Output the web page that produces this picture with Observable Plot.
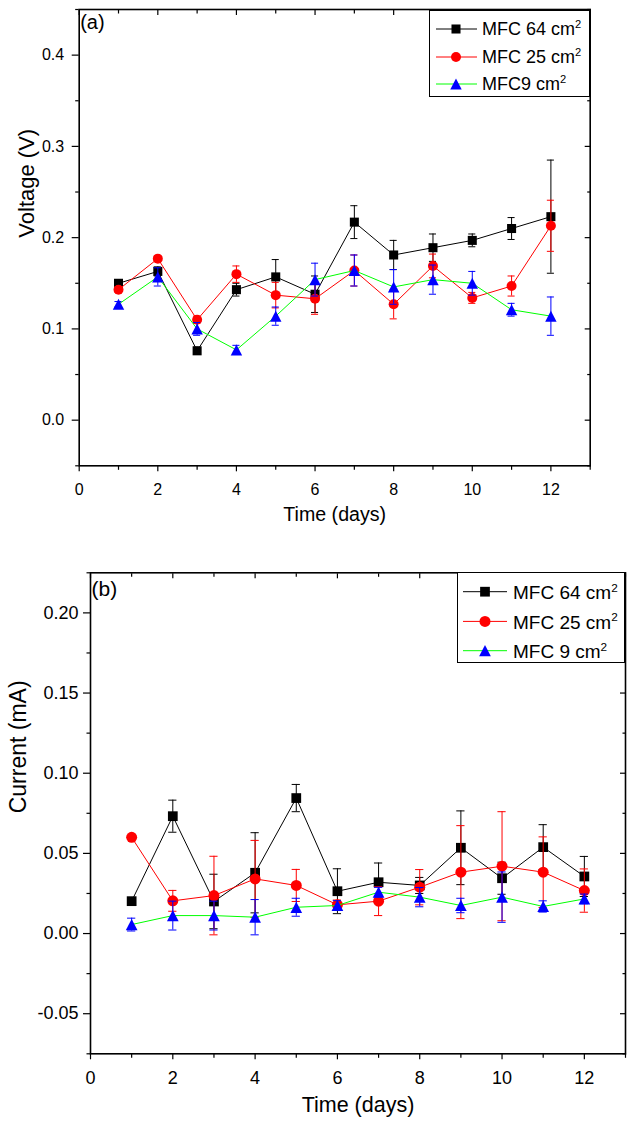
<!DOCTYPE html>
<html>
<head>
<meta charset="utf-8">
<script src="https://cdn.jsdelivr.net/npm/d3@7"></script>
<script src="https://cdn.jsdelivr.net/npm/@observablehq/plot@0.6"></script>
<style>
  body { margin: 0; background: #fff; font-family: "Liberation Sans", Arial, sans-serif; }
  #wrap { position: relative; width: 629px; height: 1127px; overflow: hidden; }
  .panel { position: relative; width: 629px; }
  .panel svg { display: block; }
  .legend { position: absolute; border: 1px solid #000; background: #fff; box-sizing: border-box; }
  .legend svg { position: absolute; left: 0; top: 0; overflow: visible; }
  .legend .lab { position: absolute; white-space: nowrap; line-height: 1; color: #000; transform: translateY(-50%); }
  .legend sup { font-size: 0.62em; vertical-align: baseline; position: relative; top: -0.62em; }
</style>
</head>
<body>
<div id="wrap"></div>
<script>
// ---------------- DATA ----------------
const days = [1, 2, 3, 4, 5, 6, 7, 8, 9, 10, 11, 12];
const seriesNamesA = ["MFC 64 cm", "MFC 25 cm", "MFC9 cm"];
const seriesNamesB = ["MFC 64 cm", "MFC 25 cm", "MFC 9 cm"];

// Panel (a): Voltage (V)
const volt64 = [0.150, 0.163, 0.076, 0.143, 0.157, 0.138, 0.217, 0.181, 0.189, 0.197, 0.210, 0.223];
const volt64Err = [0.003, 0.005, 0.004, 0.007, 0.019, 0.020, 0.018, 0.016, 0.015, 0.007, 0.012, 0.062];
const volt25 = [0.143, 0.177, 0.110, 0.160, 0.137, 0.133, 0.164, 0.127, 0.169, 0.134, 0.147, 0.213];
const volt25Err = [0.003, 0.003, 0.004, 0.009, 0.014, 0.017, 0.017, 0.016, 0.013, 0.006, 0.011, 0.028];
const volt9 = [0.127, 0.157, 0.100, 0.077, 0.114, 0.154, 0.164, 0.146, 0.154, 0.150, 0.121, 0.114];
const volt9Err = [0.003, 0.010, 0.007, 0.005, 0.010, 0.018, 0.017, 0.019, 0.016, 0.013, 0.007, 0.021];

// Panel (b): Current (mA)
const curr64 = [0.0202, 0.0732, 0.0200, 0.0379, 0.0845, 0.0264, 0.0320, 0.0300, 0.0535, 0.0345, 0.0539, 0.0356];
const curr64Err = [0.002, 0.0100, 0.0170, 0.0250, 0.0085, 0.0140, 0.0120, 0.0050, 0.0230, 0.0100, 0.0140, 0.0125];
const curr25 = [0.0600, 0.0204, 0.0237, 0.0341, 0.0300, 0.0179, 0.0202, 0.0289, 0.0383, 0.0420, 0.0383, 0.0268];
const curr25Err = [0, 0.0065, 0.0245, 0.0240, 0.0100, 0.0030, 0.0090, 0.0110, 0.0290, 0.0340, 0.0220, 0.0135];
const curr9 = [0.0056, 0.0112, 0.0112, 0.0102, 0.0164, 0.0175, 0.0258, 0.0227, 0.0175, 0.0227, 0.0169, 0.0216];
const curr9Err = [0.0040, 0.0090, 0.0090, 0.0110, 0.0056, 0.0030, 0.0030, 0.0060, 0.0045, 0.0157, 0.0035, 0.0030];

// Tick values
const xMajor = [0, 2, 4, 6, 8, 10, 12];
const xMinor = [1, 3, 5, 7, 9, 11, 13];
const yMajorA = [0.0, 0.1, 0.2, 0.3, 0.4];
const yMinorA = [-0.05, 0.05, 0.15, 0.25, 0.35, 0.45];
const yMajorB = [-0.05, 0.00, 0.05, 0.10, 0.15, 0.20];
const yMinorB = [-0.075, -0.025, 0.025, 0.075, 0.125, 0.175, 0.225];

// ---------------- STYLES ----------------
// Origin-style up triangle (about as tall as it is wide, centred on its box)
const triangleUp = {
  draw(context, size) {
    const r = Math.sqrt(size / Math.PI);
    const hw = 1.3 * r, hh = 1.25 * r;
    context.moveTo(0, -hh);
    context.lineTo(hw, hh);
    context.lineTo(-hw, hh);
    context.closePath();
  }
};
const styles = [
  {marker: "#000000", line: "#000000", err: "#000000", symbol: d3.symbolSquare, plotSymbol: "square"},
  {marker: "#ff0000", line: "#ff0000", err: "#ff0000", symbol: d3.symbolCircle, plotSymbol: "circle"},
  {marker: "#0000ff", line: "#00ff00", err: "#0000ff", symbol: triangleUp, plotSymbol: triangleUp}
];
const radiiA = [5.1, 5.0, 4.4];
const radiiB = [5.5, 5.5, 4.5];
const FONT = "'Liberation Sans', Arial, sans-serif";

function rows(values, errs) {
  return days.map((d, i) => ({day: d, value: values[i], err: errs[i]}));
}

function seriesMarks(data, st, r, cap) {
  const withErr = data.filter(d => d.err > 0);
  return [
    Plot.line(data, {x: "day", y: "value", stroke: st.line, strokeWidth: 1}),
    Plot.ruleX(withErr, {x: "day", y1: d => d.value - d.err, y2: d => d.value + d.err, stroke: st.err, strokeWidth: 1}),
    Plot.ruleY(withErr, {y: d => d.value + d.err, x1: d => d.day - cap, x2: d => d.day + cap, stroke: st.err, strokeWidth: 1}),
    Plot.ruleY(withErr, {y: d => d.value - d.err, x1: d => d.day - cap, x2: d => d.day + cap, stroke: st.err, strokeWidth: 1}),
    Plot.dot(data, {x: "day", y: "value", symbol: st.plotSymbol, r, fill: st.marker, stroke: "none"})
  ];
}

function panel(cfg) {
  const empty = () => "";
  const marks = [
    Plot.frame({stroke: "#000", strokeWidth: 1.6}),
    Plot.axisX(xMajor, {anchor: "bottom", tickSize: 6, tickPadding: cfg.xPad, tickFormat: d => String(d), fontSize: cfg.tickFont, label: null, strokeWidth: 1.2}),
    Plot.axisX(xMinor, {anchor: "bottom", tickSize: 4.5, tickFormat: empty, label: null, strokeWidth: 1.2}),
    Plot.axisX(xMajor, {anchor: "top", tickSize: 5, dy: 5, tickFormat: empty, label: null, strokeWidth: 1.2}),
    Plot.axisX(xMinor, {anchor: "top", tickSize: 3.5, dy: 3.5, tickFormat: empty, label: null, strokeWidth: 1.2}),
    Plot.axisY(cfg.yMajor, {anchor: "left", tickSize: 7, tickPadding: cfg.yPad, tickFormat: cfg.yFormat, fontSize: cfg.tickFont, label: null, strokeWidth: 1.2}),
    Plot.axisY(cfg.yMinor, {anchor: "left", tickSize: 3.5, tickFormat: empty, label: null, strokeWidth: 1.2}),
    Plot.axisY(cfg.yMajor, {anchor: "right", tickSize: 6, dx: -6, tickFormat: empty, label: null, strokeWidth: 1.2}),
    Plot.axisY(cfg.yMinor, {anchor: "right", tickSize: 3.5, dx: -3.5, tickFormat: empty, label: null, strokeWidth: 1.2}),
    Plot.text([cfg.xTitle], {text: d => d, frameAnchor: "bottom", dy: cfg.xTitleDy, fontSize: cfg.xTitleFont, fill: "#000"}),
    Plot.text([cfg.yTitle], {text: d => d, frameAnchor: "left", rotate: -90, dx: cfg.yTitleDx, fontSize: cfg.yTitleFont, fill: "#000"}),
    Plot.text([cfg.tag], {text: d => d, frameAnchor: "top-left", textAnchor: "start", lineAnchor: "top", dx: 1, dy: cfg.tagDy, fontSize: cfg.tagFont, fill: "#000"})
  ];
  cfg.series.forEach((s, i) => marks.push(...seriesMarks(s, styles[i], cfg.radii[i], cfg.cap)));
  return Plot.plot({
    width: 629,
    height: cfg.height,
    marginTop: cfg.mt, marginBottom: cfg.mb, marginLeft: cfg.ml, marginRight: cfg.mr,
    style: {fontFamily: FONT, color: "#000", background: "#fff", overflow: "visible"},
    x: {domain: [0, 13]},
    y: {domain: cfg.yDomain},
    marks
  });
}

function legend(container, names, radii, box) {
  const div = document.createElement("div");
  div.className = "legend";
  Object.assign(div.style, {left: box.left + "px", top: box.top + "px", width: box.width + "px", height: box.height + "px"});
  const svg = d3.create("svg").attr("width", box.width).attr("height", box.height);
  names.forEach((name, i) => {
    const st = styles[i];
    const r = radii[i];
    const y = box.rows[i];
    svg.append("line").attr("x1", box.lineX0).attr("x2", box.lineX1).attr("y1", y).attr("y2", y)
      .attr("stroke", st.line).attr("stroke-width", 1);
    svg.append("path").attr("d", d3.symbol(st.symbol, Math.PI * r * r)())
      .attr("transform", `translate(${box.markX},${y})`).attr("fill", st.marker);
    const lab = document.createElement("span");
    lab.className = "lab";
    lab.style.left = box.textX + "px";
    lab.style.top = y + "px";
    lab.style.fontSize = box.font + "px";
    lab.innerHTML = name + "<sup>2</sup>";
    div.appendChild(lab);
  });
  div.insertBefore(svg.node(), div.firstChild);
  container.appendChild(div);
}

const wrap = document.getElementById("wrap");

// Panel (a)
const pa = document.createElement("div");
pa.className = "panel";
pa.style.height = "548px";
wrap.appendChild(pa);
pa.appendChild(panel({
  height: 548, mt: 9, mb: 82.7, ml: 78.7, mr: 39.3,
  yDomain: [-0.05, 0.45], yMajor: yMajorA, yMinor: yMinorA,
  yFormat: d => d.toFixed(1), tickFont: 16, xPad: 12, yPad: 8,
  xTitle: "Time (days)", xTitleDy: 55.5, xTitleFont: 19.6,
  yTitle: "Voltage (V)", yTitleDx: -52, yTitleFont: 22,
  tag: "(a)", tagDy: 5, tagFont: 20, cap: 0.09, radii: radiiA,
  series: [rows(volt64, volt64Err), rows(volt25, volt25Err), rows(volt9, volt9Err)]
}));
legend(pa, seriesNamesA, radiiA, {left: 429, top: 10, width: 161, height: 87, rows: [18, 46, 73], lineX0: 6, lineX1: 47, markX: 26, textX: 52, font: 18});

// Panel (b)
const pb = document.createElement("div");
pb.className = "panel";
pb.style.height = "579px";
wrap.appendChild(pb);
pb.appendChild(panel({
  height: 579, mt: 24.3, mb: 73.7, ml: 90, mr: 4,
  yDomain: [-0.075, 0.225], yMajor: yMajorB, yMinor: yMinorB,
  yFormat: d => d.toFixed(2), tickFont: 18, xPad: 11, yPad: 5,
  xTitle: "Time (days)", xTitleDy: 57.7, xTitleFont: 21.5,
  yTitle: "Current (mA)", yTitleDx: -72, yTitleFont: 23,
  tag: "(b)", tagDy: 8, tagFont: 21, cap: 0.1, radii: radiiB,
  series: [rows(curr64, curr64Err), rows(curr25, curr25Err), rows(curr9, curr9Err)]
}));
legend(pb, seriesNamesB, radiiB, {left: 457, top: 24.3, width: 168, height: 91, rows: [18.7, 48.4, 77.7], lineX0: 5, lineX1: 49, markX: 27, textX: 55, font: 19});
</script>
</body>
</html>
